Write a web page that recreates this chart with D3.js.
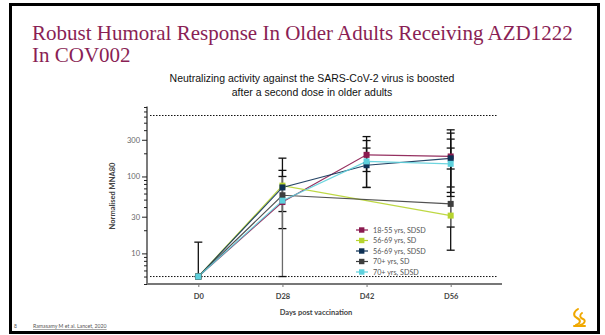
<!DOCTYPE html>
<html>
<head>
<meta charset="utf-8">
<script src="https://cdn.jsdelivr.net/npm/d3@7"></script>
<style>
  html, body { margin: 0; padding: 0; background: #fff; }
  svg { display: block; }
  .serif { font-family: "Liberation Serif", Tinos, "Times New Roman", Times, "DejaVu Serif", "Noto Serif", serif; }
</style>
</head>
<body>
<div id="chart"></div>
<script>
const categories = ['D0', 'D28', 'D42', 'D56'];
const seriesNames = ['18-55 yrs, SDSD', '56-69 yrs, SD', '56-69 yrs, SDSD', '70+ yrs, SD', '70+ yrs, SDSD'];
const seriesColors = ['#8a1a4f', '#b7d42f', '#0e3155', '#3e3e3e', '#5dd0dc'];
const barColors = ['#111', '#111', '#111', '#6a6a6a', '#111'];

// geometric means per timepoint (null = not measured)
const gmt1855SDSD = [5, 46.5, 191, 182];
const gmt5669SD = [5, 76, null, 31];
const gmt5669SDSD = [5, 72, 140, 172];
const gmt70SD = [5, 57, null, 44];
const gmt70SDSD = [5, 48.5, 157, 146];

// error bar bounds
const lo1855SDSD = [5, null, 116, 73];
const hi1855SDSD = [14, null, 330, 404];
const lo5669SD = [null, 21, null, 11];
const hi5669SD = [null, 173, null, 234];
const lo5669SDSD = [null, 35, 72, 62];
const hi5669SDSD = [null, 120, 234, 366];
const lo70SD = [null, 5, null, 22];
const hi70SD = [null, 100, null, 125];
const lo70SDSD = [null, null, 72, 55];
const hi70SDSD = [null, null, 293, 306];

const yTickValues = [10, 30, 100, 300];
const limitValues = [5, 620];

const gmts = [gmt1855SDSD, gmt5669SD, gmt5669SDSD, gmt70SD, gmt70SDSD];
const lows = [lo1855SDSD, lo5669SD, lo5669SDSD, lo70SD, lo70SDSD];
const highs = [hi1855SDSD, hi5669SD, hi5669SDSD, hi70SD, hi70SDSD];

const W = 605, H = 335;
const svg = d3.select('#chart').append('svg').attr('width', W).attr('height', H);

// slide frame
svg.append('rect').attr('x', 10.5).attr('y', 4.5).attr('width', 588).attr('height', 328)
  .attr('fill', '#fff').attr('stroke', '#000').attr('stroke-width', 3);

// title
const title = svg.append('text').attr('class', 'serif').attr('x', 32).attr('y', 40)
  .attr('font-size', 21).attr('fill', '#8a1f55');
title.append('tspan').attr('x', 32).text('Robust Humoral Response In Older Adults Receiving AZD1222');
title.append('tspan').attr('x', 32).attr('dy', 22).text('In COV002');

const sub = svg.append('text').attr('text-anchor', 'middle')
  .attr('font-family', '"Liberation Sans", Arial, sans-serif').attr('font-size', 10.5).attr('fill', '#111');
sub.append('tspan').attr('x', 312).attr('y', 82).text('Neutralizing activity against the SARS-CoV-2 virus is boosted');
sub.append('tspan').attr('x', 312).attr('y', 96).text('after a second dose in older adults');

// scales
const x = d3.scalePoint().domain(categories).range([147, 502]).padding(0.61);
const y = d3.scaleLog().domain([4, 800]).range([284, 107]);

const font = 'Lato, "Open Sans", sans-serif';

// y axis
const minor = [];
[1, 10, 100].forEach(dec => d3.range(1, 10).forEach(m => {
  const v = dec * m;
  if (v >= 4 && v <= 800 && yTickValues.indexOf(v) < 0) minor.push(v);
}));
const yAxisG = svg.append('g').attr('transform', 'translate(147,0)');
yAxisG.call(d3.axisLeft(y).tickValues(minor).tickSize(3).tickFormat(''));
yAxisG.call(g => g.select('.domain').remove());
const yMajor = svg.append('g').attr('transform', 'translate(147,0)')
  .call(d3.axisLeft(y).tickValues(yTickValues).tickSize(5).tickFormat(d3.format('d')));
yMajor.select('.domain').remove();
yMajor.selectAll('text').attr('font-family', font).attr('font-size', 7.5).attr('fill', '#666').attr('x', -7);
svg.selectAll('.tick line').attr('stroke', '#222');
svg.append('line').attr('x1', 147).attr('x2', 147).attr('y1', 106.5).attr('y2', 284.5)
  .attr('stroke', '#222').attr('stroke-width', 1.2);

// x axis
const xAxisG = svg.append('g').attr('transform', 'translate(0,284)')
  .call(d3.axisBottom(x).tickSize(3));
xAxisG.select('.domain').attr('stroke', '#777').attr('stroke-width', 2).attr('d', 'M147,0H502');
xAxisG.selectAll('.tick line').attr('stroke', '#777');
xAxisG.selectAll('text').attr('font-family', font).attr('font-size', 7.5).attr('font-weight', 'bold')
  .attr('fill', '#444').attr('dy', '1.25em');

// axis titles
svg.append('text').attr('transform', 'translate(115,196) rotate(-90)').attr('text-anchor', 'middle')
  .attr('font-family', font).attr('font-size', 7.5).attr('font-weight', 'bold').attr('fill', '#444')
  .text('Normalised MNA80');
svg.append('text').attr('x', 316).attr('y', 315).attr('text-anchor', 'middle')
  .attr('font-family', font).attr('font-size', 7.5).attr('font-weight', 'bold').attr('fill', '#444')
  .text('Days post vaccination');

// detection limits
svg.selectAll('.limit').data(limitValues).enter().append('line').attr('class', 'limit')
  .attr('x1', 150).attr('x2', 498).attr('y1', d => y(d)).attr('y2', d => y(d))
  .attr('stroke', '#111').attr('stroke-width', 1).attr('stroke-dasharray', '1.5,1.5');

// error bars
gmts.forEach((s, i) => {
  const g = svg.append('g');
  categories.forEach((c, j) => {
    const lo = lows[i][j], hi = highs[i][j];
    if (lo == null || hi == null) return;
    const cx = x(c);
    g.append('line').attr('x1', cx).attr('x2', cx).attr('y1', y(lo)).attr('y2', y(hi))
      .attr('stroke', barColors[i]).attr('stroke-width', 1.3);
    [lo, hi].forEach(v => g.append('line').attr('x1', cx - 4).attr('x2', cx + 4)
      .attr('y1', y(v)).attr('y2', y(v)).attr('stroke', '#111').attr('stroke-width', 1.3));
  });
});

// lines
const line = d3.line().x(d => x(d.c)).y(d => y(d.v));
gmts.forEach((s, i) => {
  const pts = categories.map((c, j) => ({ c, v: s[j] })).filter(d => d.v != null);
  svg.append('path').datum(pts).attr('d', line).attr('fill', 'none')
    .attr('stroke', seriesColors[i]).attr('stroke-width', 1.2).attr('opacity', 0.9);
});

// markers
gmts.forEach((s, i) => {
  svg.append('g').selectAll('rect')
    .data(categories.map((c, j) => ({ c, v: s[j] })).filter(d => d.v != null))
    .enter().append('rect')
    .attr('x', d => x(d.c) - 3).attr('y', d => y(d.v) - 3).attr('width', 6).attr('height', 6)
    .attr('fill', seriesColors[i]);
});

// legend
const legend = svg.append('g').attr('transform', 'translate(356,230)');
seriesNames.forEach((name, i) => {
  const row = legend.append('g').attr('transform', `translate(0,${i * 10.5})`);
  row.append('line').attr('x1', 0).attr('x2', 12).attr('stroke', seriesColors[i]).attr('stroke-width', 1.2);
  row.append('rect').attr('x', 3).attr('y', -2.7).attr('width', 5.4).attr('height', 5.4).attr('fill', seriesColors[i]);
  row.append('text').attr('x', 17).attr('y', 2.7).attr('font-family', font).attr('font-size', 7.2)
    .attr('fill', '#555').text(name);
});

// footer
svg.append('text').attr('x', 14).attr('y', 328).attr('font-family', font).attr('font-size', 5)
  .attr('fill', '#555').text('8');
svg.append('text').attr('x', 33).attr('y', 328).attr('font-family', font).attr('font-size', 5.2)
  .attr('fill', '#555').attr('text-decoration', 'underline').text('Ramasamy M et al. Lancet, 2020');

// logo
const logo = svg.append('g').attr('transform', 'translate(579,318)')
  .attr('fill', 'none').attr('stroke', '#f0a800').attr('stroke-width', 2).attr('stroke-linecap', 'round');
logo.append('path').attr('d', 'M-1,-9 C-6,-6 -6,-2 -2,0 C2,2 2,5 -3,7');
logo.append('path').attr('d', 'M3,-5 C0,-3 1,0 4,1 C7,2 6,6 1,7');
logo.append('path').attr('d', 'M-5,8 L6,8');
</script>
</body>
</html>
